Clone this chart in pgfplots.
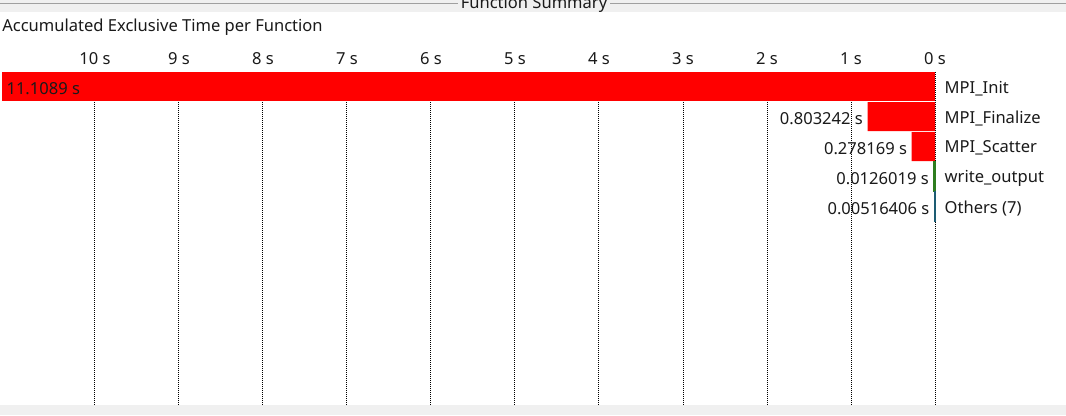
\documentclass[border=0pt]{standalone}
\usepackage{fontspec}
\setmainfont{Noto Sans}
\usepackage{pgfplots}
\pgfplotsset{compat=1.18}
\definecolor{barred}{HTML}{FF0000}
\definecolor{bargreen}{HTML}{2E7D1F}
\definecolor{barteal}{HTML}{1D5C73}
\definecolor{stripgray}{HTML}{F0F0F0}
\definecolor{rulegray}{HTML}{A0A0A0}
\definecolor{ink}{HTML}{1A1A1A}
\newcommand\uifont{\fontsize{12.4pt}{14pt}\selectfont}

\begin{document}
\begin{tikzpicture}
  % frame in pixel units (1 px = 0.75 pt), y downwards
  \begin{scope}[x=0.75pt, y=-0.75pt]
    \fill[white] (0,0) rectangle (1066,415);
    \fill[stripgray] (0,0) rectangle (1066,12);
    \draw[rulegray, line width=0.75pt] (0,3) -- (458,3) (610,3) -- (1066,3);
    \node[anchor=base, inner sep=0, font=\uifont, text=ink] at (534,8) {Function Summary};
    \fill[stripgray] (0,405) rectangle (1066,415);
    \node[anchor=base west, inner sep=0, font=\uifont, text=ink] at (2,31) {Accumulated Exclusive Time per Function};
  \end{scope}

  \begin{axis}[
    at={(0pt,-54pt)}, anchor=north west,
    scale only axis, width=701.25pt, height=249.75pt,
    x dir=reverse,
    xmin=0, xmax=11.131, ymin=0, ymax=333,
    xbar, bar width=29, bar shift=0pt,
    axis line style={draw=none},
    tick style={draw=none},
    xtick={0,1,2,3,4,5,6,7,8,9,10},
    xticklabels={0 s,1 s,2 s,3 s,4 s,5 s,6 s,7 s,8 s,9 s,10 s},
    xticklabel pos=upper,
    xticklabel style={anchor=base, yshift=6pt, font=\uifont, text=ink},
    ytick={318.5,288.5,258.5,228.5,198.5},
    yticklabels={MPI\_Init,MPI\_Finalize,MPI\_Scatter,write\_output,Others (7)},
    yticklabel pos=right,
    yticklabel style={anchor=west, xshift=-0.5pt, yshift=-1.3pt, font=\uifont, text=ink},
    xmajorgrids, ymajorgrids=false,
    major grid style={black, line width=0.75pt, dash pattern=on 0.75pt off 0.75pt},
    point meta=explicit symbolic,
    nodes near coords,
    nodes near coords style={font=\uifont, text=ink, anchor=east, yshift=-1.3pt},
    clip=false,
  ]
    \addplot[fill=barred, draw=none, nodes near coords style={anchor=west}]
      coordinates {(11.1089,318.5) [11.1089 s]};
    \addplot[fill=barred, draw=none]
      coordinates {(0.803242,288.5) [0.803242 s] (0.278169,258.5) [0.278169 s]};
    \addplot[fill=bargreen, draw=bargreen, line width=1.2pt]
      coordinates {(0.0126019,228.5) [0.0126019 s]};
    \addplot[fill=barteal, draw=barteal, line width=1.2pt]
      coordinates {(0.00516406,198.5) [0.00516406 s]};
  \end{axis}

  \pgfresetboundingbox
  \path[use as bounding box] (0,0) rectangle (799.5pt,-311.25pt);
\end{tikzpicture}
\end{document}
